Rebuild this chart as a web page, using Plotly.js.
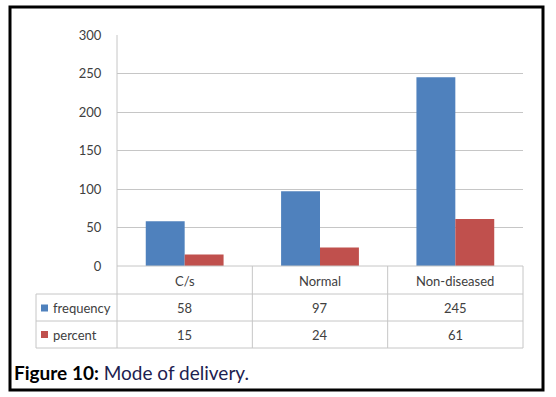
<!DOCTYPE html>
<html>
<head>
<meta charset="utf-8">
<script src="https://cdn.plot.ly/plotly-3.0.1.min.js"></script>
<style>html,body{margin:0;padding:0;background:#fff;}#chart{width:556px;height:397px;}</style>
</head>
<body>
<div id="chart"></div>
<script>
const categories = ["C/s", "Normal", "Non-diseased"];
const seriesNames = ["frequency", "percent"];
const frequency = [58, 97, 245];
const percent = [15, 24, 61];
const yTicks = [0, 50, 100, 150, 200, 250, 300];
const captionBold = "Figure 10:";
const captionText = "Mode of delivery.";

const colors = ["#4F81BD", "#C0504D"];
const W = 556, H = 397, L = 117, R = 33, T = 35, B = 131;
const pw = W - L - R, ph = H - T - B;
const px = X => (X - L) / pw;
const py = Y => (H - B - Y) / ph;

const gridCol = "#C6C6C6";
const font = "Lato, 'Open Sans', sans-serif";
const txtCol = "#404040";

const traces = [frequency, percent].map((vals, i) => ({
  type: "bar", x: categories, y: vals, name: seriesNames[i],
  marker: {color: colors[i]}, hoverinfo: "none"
}));

const shapes = [];
const line = (x0, y0, x1, y1, xref) => shapes.push({type: "line", xref: xref || "paper", yref: "paper",
  x0, y0, x1, y1, line: {color: gridCol, width: 1}, layer: "above"});
line(0, 1, 0, py(348));
for (let i = 1; i <= categories.length; i++) line(i / categories.length, 0, i / categories.length, py(348));
line(px(36), py(294), px(36), py(348));
[294, 321, 348].forEach(Y => line(px(36), py(Y), 1, py(Y)));
line(0, 0, 1, 0);
const rowCenters = [308, 334.5];
rowCenters.forEach((Y, i) => shapes.push({type: "rect", xref: "paper", yref: "paper",
  x0: px(41), x1: px(48), y0: py(Y - 3.5), y1: py(Y + 3.5), fillcolor: colors[i], line: {width: 0}}));
shapes.push({type: "rect", xref: "paper", yref: "paper", x0: px(10), x1: px(543), y0: py(7), y1: py(390),
  line: {color: "#000", width: 3}, fillcolor: "rgba(0,0,0,0)"});

const annotations = [];
categories.forEach((c, i) => {
  annotations.push({x: c, xref: "x", y: py(280.5), yref: "paper", text: c, showarrow: false,
    font: {family: font, size: 13, color: txtCol}, xanchor: "center", yanchor: "middle"});
  [frequency, percent].forEach((vals, j) => annotations.push({x: c, xref: "x", y: py(rowCenters[j]), yref: "paper",
    text: String(vals[i]), showarrow: false, font: {family: font, size: 13, color: txtCol}, xanchor: "center", yanchor: "middle"}));
});
seriesNames.forEach((n, j) => annotations.push({x: px(51), xref: "paper", y: py(rowCenters[j]), yref: "paper",
  text: n, showarrow: false, font: {family: font, size: 13, color: txtCol}, xanchor: "left", yanchor: "middle"}));
annotations.push({x: px(12), xref: "paper", y: py(372), yref: "paper", xanchor: "left", yanchor: "middle",
  text: "<b>" + captionBold + "</b> <span style='color:#1d2150'>" + captionText + "</span>", showarrow: false,
  font: {family: font, size: 19, color: "#000"}});

const layout = {
  width: W, height: H, margin: {l: L, r: R, t: T, b: B, pad: 0},
  paper_bgcolor: "#fff", plot_bgcolor: "#fff", showlegend: false,
  barmode: "group", bargap: 0.425, bargroupgap: 0,
  xaxis: {type: "category", range: [-0.5, 2.5], showticklabels: false, showgrid: false, zeroline: false, showline: false, ticks: "", fixedrange: true},
  yaxis: {range: [0, 300], tickvals: yTicks, ticktext: yTicks.map(String), showgrid: true, gridcolor: gridCol, gridwidth: 1,
    zeroline: false, showline: false, ticks: "outside", ticklen: 12, tickcolor: "rgba(0,0,0,0)",
    tickfont: {family: font, size: 13, color: txtCol}, fixedrange: true},
  shapes, annotations
};
Plotly.newPlot("chart", traces, layout, {displayModeBar: false, staticPlot: true});
</script>
</body>
</html>
